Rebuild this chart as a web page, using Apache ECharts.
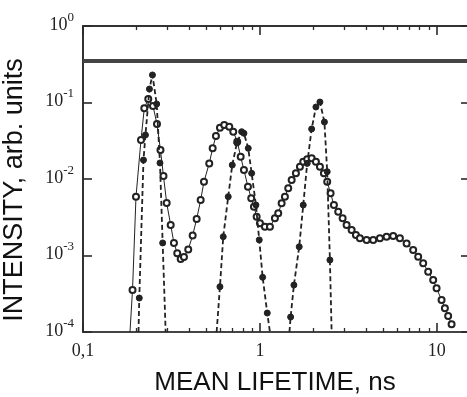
<!DOCTYPE html>
<html>
<head>
<meta charset="utf-8">
<script src="https://cdn.jsdelivr.net/npm/echarts@6/dist/echarts.min.js"></script>
<style>html,body{margin:0;padding:0;background:#fff}#c{width:467px;height:397px}</style>
</head>
<body>
<div id="c"></div>
<script>
// ---- data ----
const openX = [0.1843,0.1905,0.1993,0.2127,0.2220,0.2338,0.2486,0.2619,0.2741,0.2850,0.2971,0.3130,0.3266,0.3409,0.3565,0.3721,0.3934,0.4166,0.4389,0.4624,0.4827,0.5170,0.5404,0.5641,0.5943,0.6284,0.6709,0.7067,0.7443,0.7781,0.8121,0.8555,0.8929,0.9250,0.9580,1.000,1.067,1.139,1.215,1.269,1.326,1.384,1.445,1.511,1.597,1.683,1.757,1.850,1.960,2.072,2.183,2.299,2.400,2.508,2.619,2.770,2.933,3.089,3.298,3.487,3.673,4.007,4.367,4.764,5.197,5.664,6.180,6.744,7.346,7.842,8.368,8.930,9.531,9.961,10.63,11.10,11.58,12.11];
const openY = [1e-4,3.54e-4,5.87e-3,0.0324,0.0840,0.1111,0.0900,0.0524,0.0239,0.01094,4.86e-3,2.50e-3,1.46e-3,1.07e-3,9.0e-4,9.55e-4,1.20e-3,1.83e-3,3.00e-3,5.31e-3,9.22e-3,0.0160,0.0252,0.0365,0.0469,0.0508,0.0483,0.0415,0.0308,0.0196,0.0131,7.93e-3,5.60e-3,4.35e-3,3.21e-3,2.64e-3,2.38e-3,2.38e-3,3.06e-3,3.56e-3,4.81e-3,5.87e-3,7.56e-3,9.70e-3,0.01188,0.01448,0.01684,0.01811,0.01865,0.01684,0.01448,0.01188,9.22e-3,6.50e-3,4.57e-3,3.74e-3,3.06e-3,2.50e-3,2.16e-3,1.85e-3,1.68e-3,1.60e-3,1.60e-3,1.68e-3,1.76e-3,1.80e-3,1.68e-3,1.44e-3,1.18e-3,9.64e-4,7.90e-4,6.14e-4,4.78e-4,3.73e-4,2.62e-4,2.04e-4,1.62e-4,1.26e-4];

const peak1X = [0.2059,0.2080,0.2197,0.2254,0.2374,0.2469,0.2609,0.2723,0.2820,0.2932];
const peak1Y = [1e-4,2.78e-4,0.0177,0.0376,0.150,0.229,0.0956,0.0162,1.46e-3,1e-4];
const peak2X = [0.5692,0.5943,0.6203,0.6619,0.6975,0.7413,0.7881,0.8121,0.8589,0.8977,0.9493,0.9909,1.036,1.100,1.139];
const peak2Y = [1e-4,3.91e-4,1.76e-3,5.87e-3,0.01524,0.0296,0.0415,0.0396,0.0252,0.01188,4.57e-3,1.60e-3,5.19e-4,1.77e-4,1e-4];
const peak3X = [1.468,1.491,1.556,1.667,1.757,1.850,1.960,2.072,2.183,2.314,2.400,2.486,2.542];
const peak3Y = [1e-4,1.57e-4,4.11e-4,1.30e-3,4.57e-3,0.0160,0.0451,0.0873,0.1015,0.0556,0.01246,8.73e-4,1e-4];

const referenceLevel = 0.349;

const xMajorTicks = [0.1, 1, 10];
const yMajorTicks = [1e-4, 1e-3, 1e-2, 1e-1, 1];
const xMin = 0.1, xMax = 14.8, yMin = 1e-4, yMax = 1;

// ---- chart ----
const chart = echarts.init(document.getElementById('c'));
const ink = '#2a2a2a';
const serif = 'Liberation Serif';
const clear = 'rgba(0,0,0,0)';

function pts(xs, ys) {
  return xs.map((x, i) => {
    const item = {value: [x, ys[i]]};
    if (ys[i] <= yMin) item.symbol = 'none';
    return item;
  });
}

const option = {
  backgroundColor: '#fff',
  animation: false,
  grid: {left: 83, right: 0, top: 26, bottom: 65, outerBoundsMode: 'none'},
  xAxis: [
    {
      type: 'log', min: xMin, max: xMax, position: 'bottom',
      splitLine: {show: false},
      axisLine: {lineStyle: {color: '#444', width: 2}},
      axisTick: {show: true, inside: true, length: 9, customValues: xMajorTicks, lineStyle: {color: ink, width: 1.6}},
      minorTick: {show: true, splitNumber: 9, length: 4, lineStyle: {color: ink, width: 1.3}},
      axisLabel: {customValues: xMajorTicks, margin: 10, fontFamily: serif, fontSize: 18, color: '#222',
        formatter: v => (Math.abs(v - 0.1) < 1e-9 ? '0,1' : String(Math.round(v)))},
      name: 'MEAN LIFETIME, ns', nameLocation: 'middle', nameGap: 38,
      nameTextStyle: {fontFamily: 'Liberation Sans', fontSize: 26, color: '#111'}
    },
    {
      type: 'log', min: xMin, max: xMax, position: 'top',
      splitLine: {show: false},
      axisLine: {lineStyle: {color: '#333', width: 2}},
      axisTick: {show: true, inside: true, length: 9, customValues: xMajorTicks, lineStyle: {color: ink, width: 1.6}},
      minorTick: {show: true, splitNumber: 9, length: 4, lineStyle: {color: ink, width: 1.3}},
      axisLabel: {customValues: xMajorTicks, color: clear, fontSize: 8}
    }
  ],
  yAxis: [
    {
      type: 'log', min: yMin, max: yMax, position: 'left',
      splitLine: {show: false},
      axisLine: {lineStyle: {color: '#333', width: 2}},
      axisTick: {show: true, inside: true, length: 9, customValues: yMajorTicks, lineStyle: {color: ink, width: 1.6}},
      axisLabel: {
        customValues: yMajorTicks, margin: 9, padding: [0, 0, 7, 0],
        formatter: v => '{b|10}{s|' + Math.round(Math.log10(v)) + '}',
        rich: {
          b: {fontFamily: serif, fontSize: 18, color: '#222', padding: [5, 0, 0, 0]},
          s: {fontFamily: serif, fontSize: 13, color: '#222', verticalAlign: 'top'}
        }
      },
      name: 'INTENSITY, arb. units', nameLocation: 'middle', nameGap: 55,
      nameTextStyle: {fontFamily: 'Liberation Sans', fontSize: 27, color: '#111', padding: [0, 22, 0, 0]}
    },
    {
      type: 'log', min: yMin, max: yMax, position: 'right',
      splitLine: {show: false},
      axisLine: {lineStyle: {color: clear, width: 1}},
      axisTick: {show: true, inside: true, length: 6, customValues: yMajorTicks, lineStyle: {color: ink, width: 1.6}},
      axisLabel: {customValues: yMajorTicks, color: clear, fontSize: 8}
    }
  ],
  series: [
    {
      type: 'line', name: 'open', xAxisIndex: 0, yAxisIndex: 0,
      data: pts(openX, openY),
      symbol: 'emptyCircle', symbolSize: 6,
      itemStyle: {color: '#222', borderWidth: 1.1},
      lineStyle: {color: '#222', width: 1},
      z: 3,
      markLine: {
        silent: true, symbol: 'none', animation: false,
        label: {show: false},
        lineStyle: {color: '#444', width: 4, type: 'solid'},
        data: [{yAxis: referenceLevel}]
      }
    }
  ].concat([[peak1X, peak1Y], [peak2X, peak2Y], [peak3X, peak3Y]].map(([xs, ys]) => ({
    type: 'line', xAxisIndex: 0, yAxisIndex: 0,
    data: pts(xs, ys),
    symbol: 'circle', symbolSize: 6,
    itemStyle: {color: '#222', borderColor: '#222'},
    lineStyle: {color: '#222', width: 1.8, type: [5, 3]},
    z: 4
  })))
};
chart.setOption(option);
</script>
</body>
</html>
